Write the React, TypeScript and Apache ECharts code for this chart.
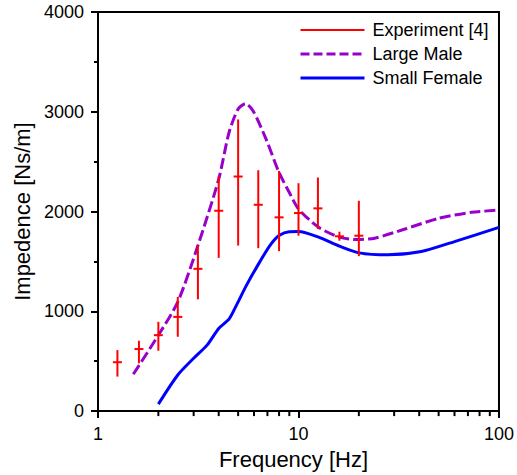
import React, { useEffect, useRef } from "react";
import * as echarts from "echarts";

// Experiment [4]: frequency, mean, lower, upper
const expFreq = [1.25, 1.6, 2.0, 2.5, 3.15, 4.0, 5.0, 6.3, 8.0, 10, 12.5, 16, 20];
const expMean = [490, 622, 761, 944, 1426, 2008, 2351, 2068, 1942, 1985, 2032, 1752, 1758];
const expLow = [346, 479, 605, 745, 1120, 1536, 1659, 1633, 1603, 1758, 1825, 1708, 1553];
const expHigh = [611, 705, 895, 1144, 1659, 2351, 2923, 2414, 2407, 2284, 2341, 1798, 2108];

// Large Male model
const maleFreq = [1.5, 2.0, 2.5, 3.15, 4.0, 4.5, 5.0, 5.45, 5.95, 6.9, 8.0, 9.0, 10, 12.6, 16, 19.3, 24, 34, 50, 73, 100];
const maleVal = [369, 761, 1094, 1659, 2324, 2790, 3029, 3082, 3006, 2723, 2391, 2191, 2025, 1842, 1743, 1719, 1733, 1825, 1932, 1992, 2015];

// Small Female model
const femaleFreq = [2.0, 2.5, 3.0, 3.5, 4.0, 4.5, 4.9, 5.5, 6.4, 7.2, 8.0, 9.0, 10, 12.6, 16, 20, 28, 41, 60, 100];
const femaleVal = [70, 362, 529, 661, 828, 921, 1060, 1260, 1493, 1659, 1759, 1798, 1799, 1743, 1653, 1586, 1566, 1599, 1699, 1842];

// minor tick positions on the log frequency axis
const xMinorTicks = [2, 3, 4, 5, 6, 7, 8, 9, 20, 30, 40, 50, 60, 70, 80, 90];

const FONT = "'Liberation Sans', Arial, sans-serif";
const RED = "#ff0000";
const PURPLE = "#9a00cc";
const BLUE = "#0000ff";

export default function App() {
  const ref = useRef<HTMLDivElement>(null);
  useEffect(() => {
    if (!ref.current) return;
    const chart = echarts.init(ref.current, undefined, { renderer: "svg" });
    const expData = expFreq.map((f, i) => [f, expMean[i], expLow[i], expHigh[i]]);
    const maleData = maleFreq.map((f, i) => [f, maleVal[i]]);
    const femaleData = femaleFreq.map((f, i) => [f, femaleVal[i]]);
    const minorData = xMinorTicks.map((f) => [f, 0]);
    const hiddenSymbol = { opacity: 0, borderWidth: 0 };

    chart.setOption({
      animation: false,
      grid: {
        left: 98,
        right: 16,
        top: 12,
        bottom: 61,
        show: true,
        borderColor: "#000",
        borderWidth: 2,
        backgroundColor: "transparent",
      },
      legend: {
        orient: "vertical",
        left: 299,
        top: 21,
        padding: 0,
        itemWidth: 64,
        itemHeight: 14,
        itemGap: 6,
        textStyle: { fontFamily: FONT, fontSize: 18, color: "#000", padding: [0, 0, 0, 3] },
        data: [
          { name: "Experiment [4]", itemStyle: hiddenSymbol, lineStyle: { color: RED, width: 2, type: "solid" } },
          { name: "Large Male", itemStyle: hiddenSymbol, lineStyle: { color: PURPLE, width: 3, type: [9, 4] } },
          { name: "Small Female", itemStyle: hiddenSymbol, lineStyle: { color: BLUE, width: 3, type: "solid" } },
        ],
      },
      xAxis: {
        type: "log",
        logBase: 10,
        min: 1,
        max: 100,
        name: "Frequency [Hz]",
        nameLocation: "middle",
        nameGap: 33,
        nameTextStyle: { fontFamily: FONT, fontSize: 22, color: "#000", padding: [0, 10, 0, 0] },
        axisLine: { show: true, lineStyle: { color: "#000", width: 2 } },
        axisTick: { show: true, inside: false, length: 7, lineStyle: { color: "#000", width: 2 } },
        minorTick: { show: false },
        splitLine: { show: false },
        axisLabel: { fontFamily: FONT, fontSize: 18, color: "#000", margin: 14 },
      },
      yAxis: {
        type: "value",
        min: 0,
        max: 4000,
        interval: 1000,
        name: "Impedence [Ns/m]",
        nameLocation: "middle",
        nameGap: 64,
        nameTextStyle: { fontFamily: FONT, fontSize: 22, color: "#000" },
        axisLine: { show: true, lineStyle: { color: "#000", width: 2 } },
        axisTick: { show: true, inside: false, length: 7, lineStyle: { color: "#000", width: 2 } },
        minorTick: { show: true, splitNumber: 2, length: 4, lineStyle: { color: "#000", width: 2 } },
        splitLine: { show: false },
        minorSplitLine: { show: false },
        axisLabel: {
          fontFamily: FONT,
          fontSize: 18,
          color: "#000",
          margin: 14,
          formatter: (v: number) => String(v),
        },
      },
      series: [
        {
          name: "Experiment [4]",
          type: "line",
          data: [],
          symbol: "none",
          lineStyle: { color: RED, width: 2 },
          itemStyle: { color: RED },
        },
        {
          name: "Large Male",
          type: "line",
          data: maleData,
          symbol: "none",
          smooth: 0.25,
          lineStyle: { color: PURPLE, width: 3, type: [11, 4] },
          itemStyle: { color: PURPLE },
          z: 2,
        },
        {
          name: "Small Female",
          type: "line",
          data: femaleData,
          symbol: "none",
          smooth: 0.25,
          lineStyle: { color: BLUE, width: 3 },
          itemStyle: { color: BLUE },
          z: 2,
        },
        {
          name: "Experiment bars",
          type: "custom",
          data: expData,
          encode: { x: 0, y: [1, 2, 3] },
          z: 3,
          renderItem: (params: any, api: any) => {
            const x = api.value(0);
            const pc = api.coord([x, api.value(1)]);
            const pl = api.coord([x, api.value(2)]);
            const ph = api.coord([x, api.value(3)]);
            const style = { stroke: RED, lineWidth: 2, fill: "none" };
            return {
              type: "group",
              children: [
                { type: "line", shape: { x1: pl[0], y1: pl[1], x2: ph[0], y2: ph[1] }, style },
                { type: "line", shape: { x1: pc[0] - 4.5, y1: pc[1], x2: pc[0] + 4.5, y2: pc[1] }, style },
              ],
            };
          },
        },
        {
          name: "x minor ticks",
          type: "custom",
          data: minorData,
          encode: { x: 0, y: 1 },
          clip: false,
          silent: true,
          renderItem: (params: any, api: any) => {
            const p = api.coord([api.value(0), api.value(1)]);
            return {
              type: "line",
              shape: { x1: p[0], y1: p[1], x2: p[0], y2: p[1] + 5 },
              style: { stroke: "#000", lineWidth: 2 },
            };
          },
        },
      ],
    });
    return () => chart.dispose();
  }, []);
  return (
    <div
      ref={ref}
      style={{ position: "absolute", left: 0, top: 0, width: 517, height: 475, background: "#fff" }}
    />
  );
}
